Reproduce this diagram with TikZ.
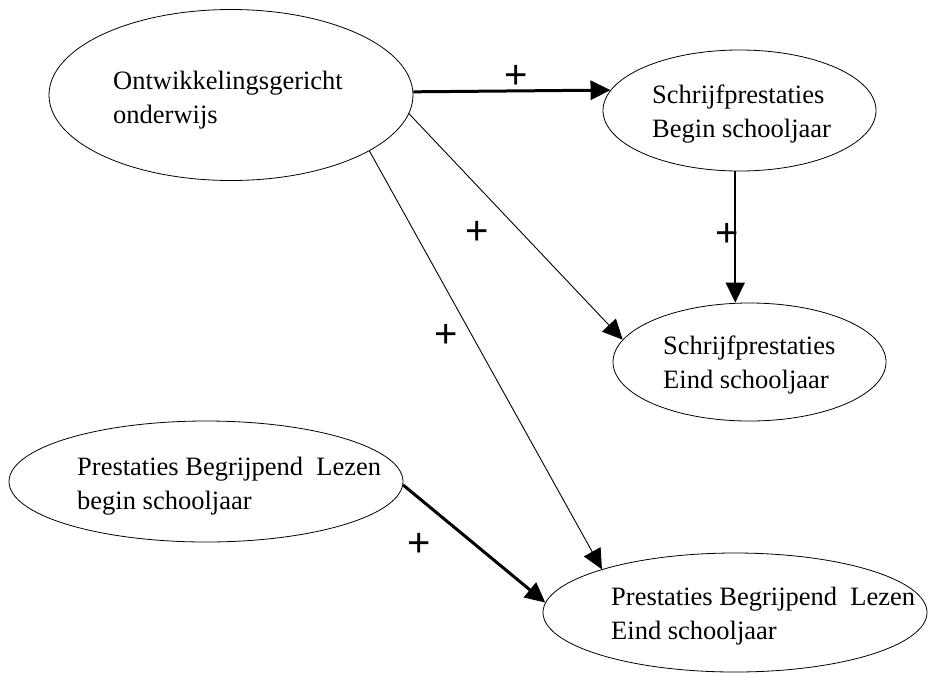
\documentclass[tikz,border=0pt]{standalone}
\usepackage{fontspec}
\setmainfont{Liberation Serif}
\newfontfamily\plusfont{Liberation Sans}
\usetikzlibrary{shapes.geometric,arrows.meta}

\tikzset{
  oval/.style={ellipse, draw, line width=0.8pt, inner sep=0pt},
  lbl/.style={align=left, inner sep=0pt, font=\fontsize{26.5}{33.5}\selectfont},
  plus/.style={inner sep=0pt, font=\plusfont\fontsize{40}{40}\selectfont},
  effect/.style={line width=0.9pt, -{Triangle[length=20pt,width=19pt]}},
  midline/.style={effect, line width=1.6pt},
  strong/.style={effect, line width=3pt}
}

\begin{document}
\begin{tikzpicture}[x=1pt,y=-1pt]

    \useasboundingbox (0,0) rectangle (928,673);

    % ovalen
    \node[oval, minimum width=364pt, minimum height=171pt] (ogo) at (231,95) {};
    \node[oval, minimum width=273pt, minimum height=121pt] (schrBegin) at (739.5,110.5) {};
    \node[oval, minimum width=273pt, minimum height=118pt] (schrEind) at (749.5,362) {};
    \node[oval, minimum width=394pt, minimum height=121pt] (blBegin) at (206,481.5) {};
    \node[oval, minimum width=384pt, minimum height=119pt] (blEind) at (735,612.5) {};

    % teksten (anker op de basislijn van de laatste regel)
    \node[lbl, anchor=base west] (ogoTxt) at (113,123) {Ontwikkelingsgericht\\onderwijs};
    \node[lbl, anchor=base west] (schrBeginTxt) at (652,137) {Schrijfprestaties\\Begin schooljaar};
    \node[lbl, anchor=base west] (schrEindTxt) at (663,388) {Schrijfprestaties\\Eind schooljaar};
    \node[lbl, anchor=base west] (blBeginTxt) at (77,509) {Prestaties Begrijpend\ \ Lezen\\begin schooljaar};
    \node[lbl, anchor=base west] (blEindTxt) at (611,639) {Prestaties Begrijpend\ \ Lezen\\Eind schooljaar};

    % pijlen
    \draw[strong] (ogo.1.6) -- (schrBegin.171);
    \draw[midline] (schrBegin.266) -- (schrBegin.266 |- schrEind.north);
    \draw[effect] (ogo.354) -- (schrEind.170.4);
    \draw[effect] (ogo.338.6) -- (blEind.162.8);
    \draw[strong] (blBegin.359.6) -- (blEind.177);

    \node[plus] (p1) at (516,77) {+};
    \node[plus] (p2) at (727,235) {+};
    \node[plus] (p3) at (477,233) {+};
    \node[plus] (p4) at (446,336) {+};
    \node[plus] (p5) at (419,545) {+};

\end{tikzpicture}
\end{document}
